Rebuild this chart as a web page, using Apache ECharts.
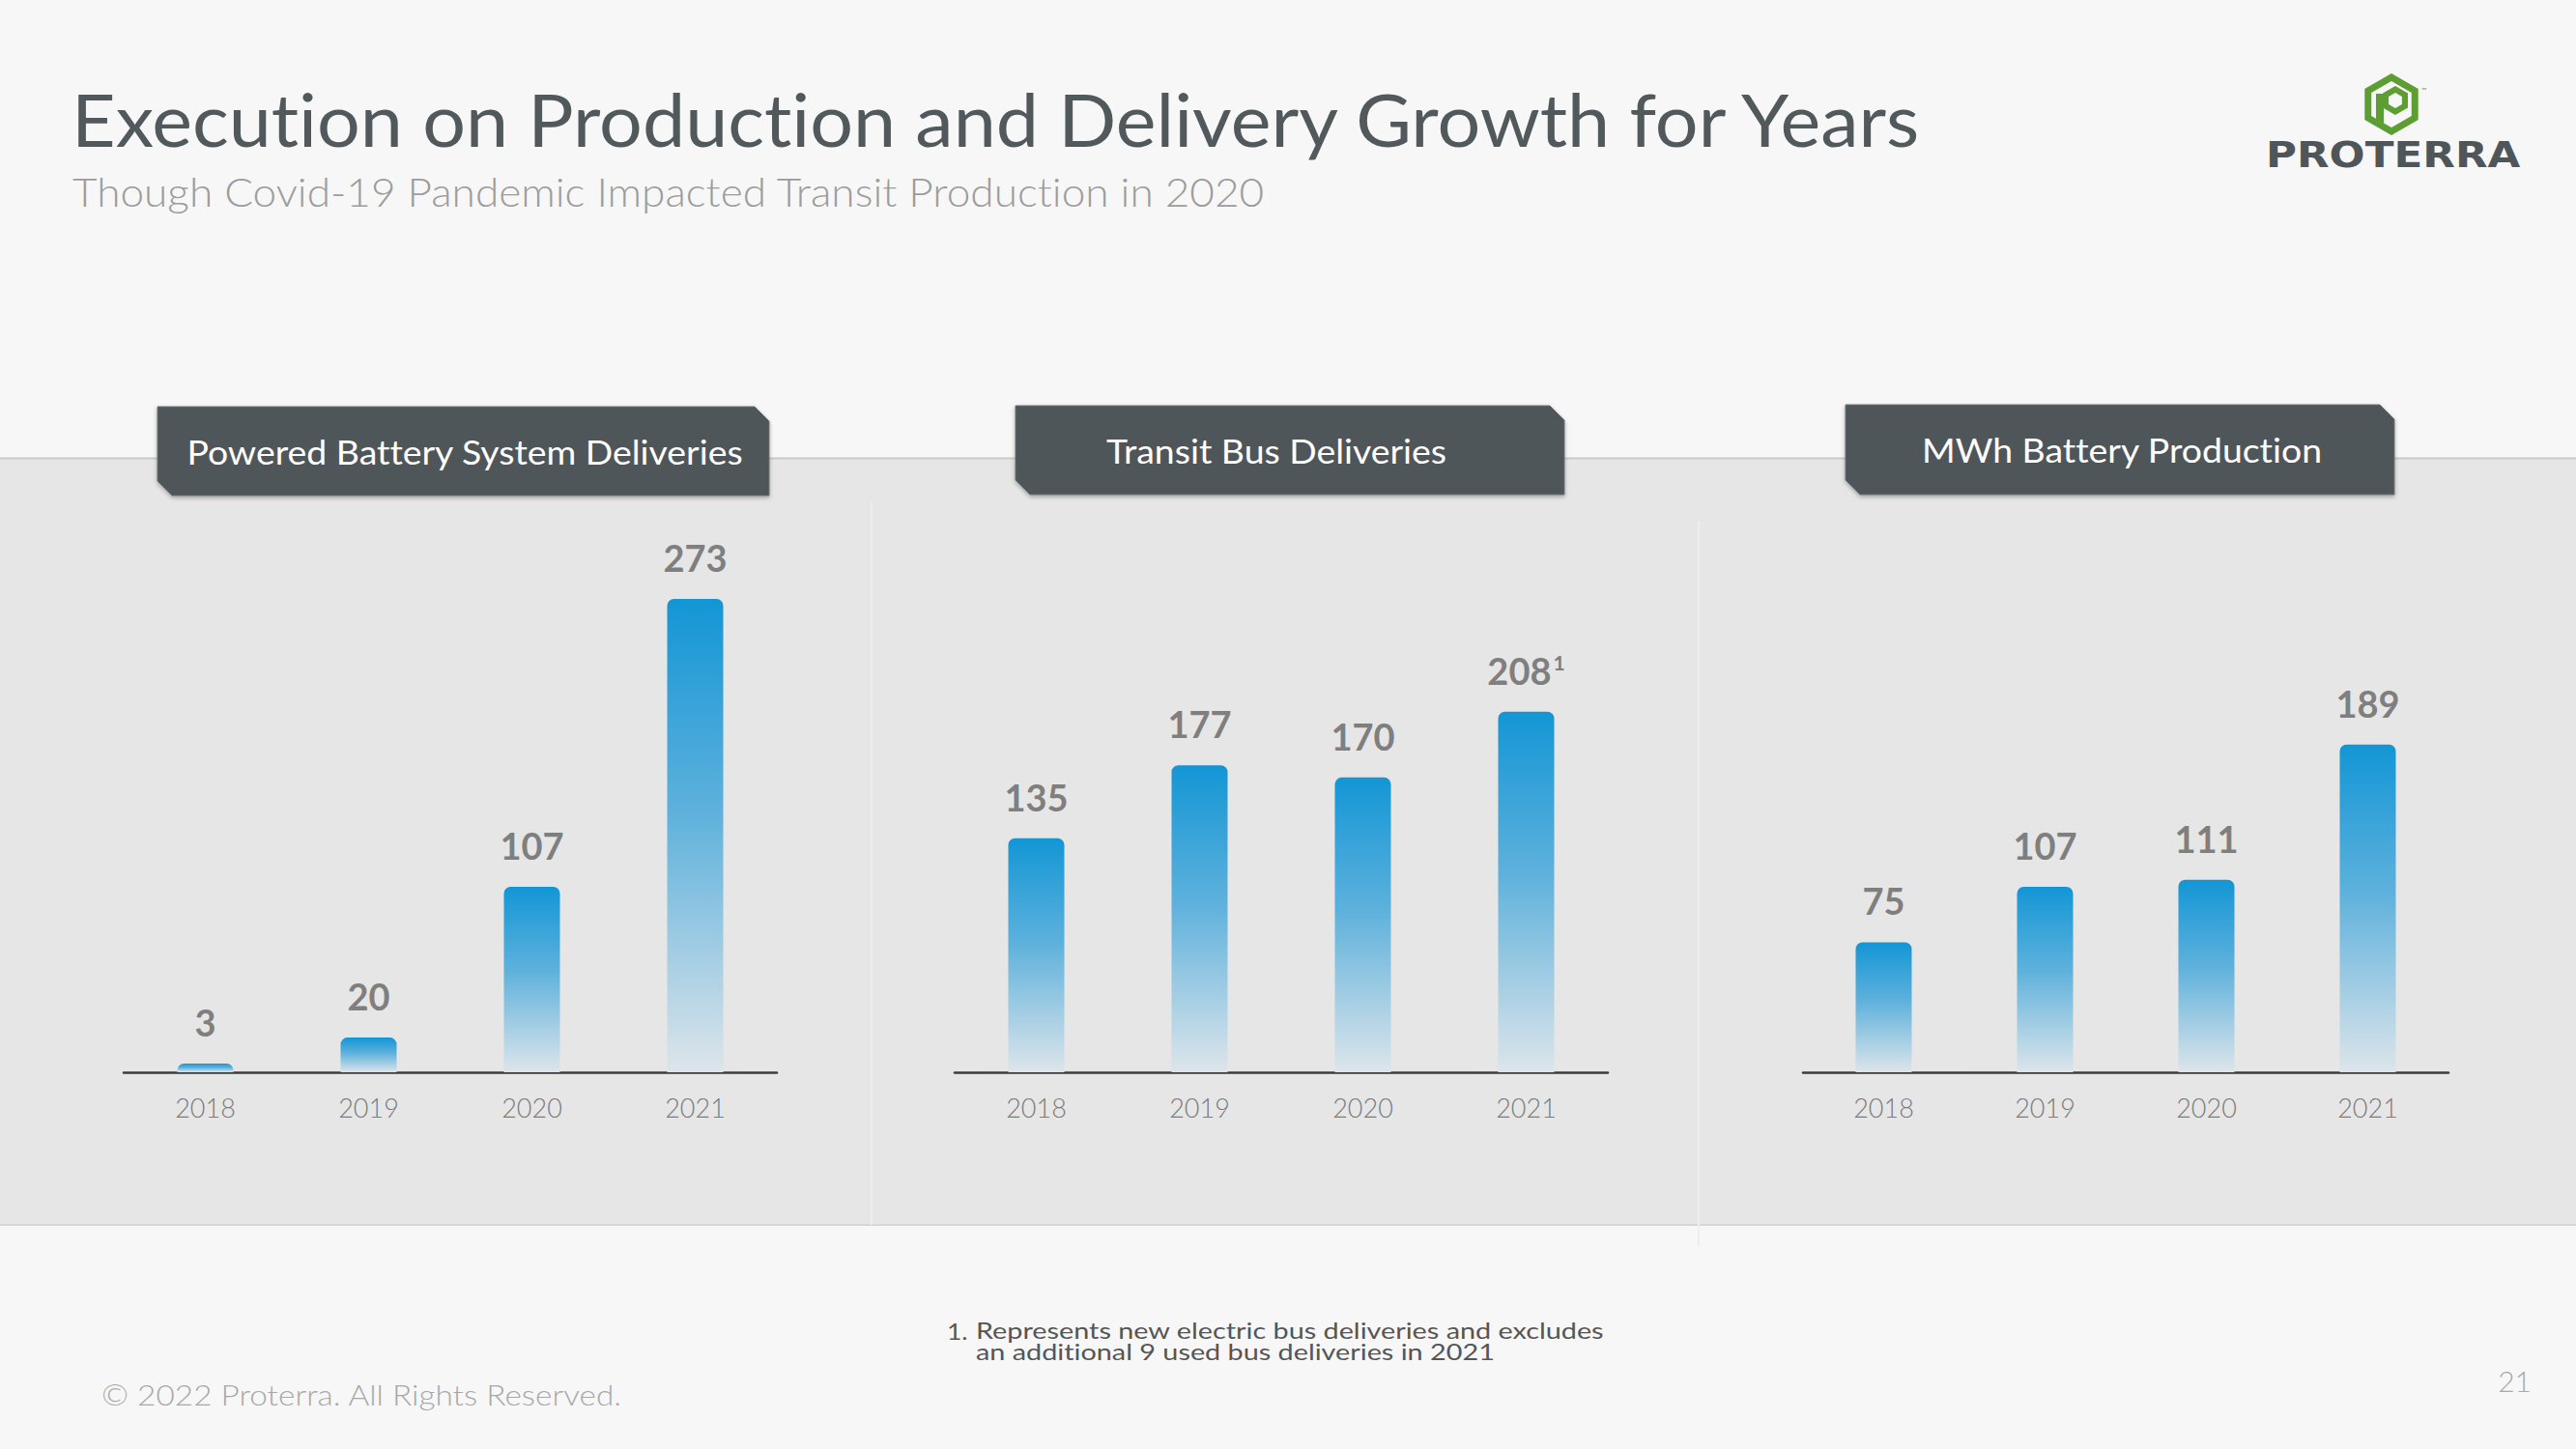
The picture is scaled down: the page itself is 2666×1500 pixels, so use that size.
<!DOCTYPE html>
<html>
<head>
<meta charset="utf-8">
<script src="https://cdn.jsdelivr.net/npm/echarts@6/dist/echarts.min.js"></script>
<style>
  html, body { margin: 0; padding: 0; background: #f7f7f7; }
  #chart { width: 2666px; height: 1500px; }
  #chart text, #chart tspan {
    font-variant-ligatures: none !important;
    font-feature-settings: "liga" 0, "clig" 0, "dlig" 0 !important;
  }
</style>
</head>
<body>
<div id="chart"></div>
<script>
// ---- data ----
const years = ['2018', '2019', '2020', '2021'];
const batterySystems = [3, 20, 107, 273];
const busDeliveries = [135, 177, 170, 208];
const busNotes = ['', '', '', '1'];
const mwhProduction = [75, 107, 111, 189];
const panelTitles = ['Powered Battery System Deliveries', 'Transit Bus Deliveries', 'MWh Battery Production'];
const mainTitle = 'Execution on Production and Delivery Growth for Years';
const subTitle = 'Though Covid-19 Pandemic Impacted Transit Production in 2020';
const footnoteLines = ['Represents new electric bus deliveries and excludes', 'an additional 9 used bus deliveries in 2021'];
const copyright = '\u00A9 2022 Proterra. All Rights Reserved.';
const pageNumber = '21';

// ---- style ----
const FONT = 'Lato, "Noto Sans", sans-serif';
const BG = '#f7f7f7';
const DARK = '#50575a';
const GREEN = '#5c9e31';

const chart = echarts.init(document.getElementById('chart'), null, { renderer: 'svg' });

function barGradient() {
  return new echarts.graphic.LinearGradient(0, 0, 0, 1, [
    { offset: 0, color: '#1396d5' },
    { offset: 0.45, color: '#5eb1dc' },
    { offset: 1, color: '#dde5ea' }
  ]);
}

const grids = [
  { left: 128, width: 676, top: 571.5, height: 538.5 },
  { left: 988, width: 676, top: 571.5, height: 538.5 },
  { left: 1866, width: 668, top: 571.5, height: 538.5 }
];
const seriesData = [batterySystems, busDeliveries, mwhProduction];

function chamferBox(x0, y0, x1, y1, c) {
  return [[x0, y0], [x1 - c, y0], [x1, y0 + c], [x1, y1], [x0 + c, y1], [x0, y1 - c]];
}
function hexPts(cx, cy, r) {
  const pts = [];
  for (let i = 0; i < 6; i++) {
    const a = (-90 + 60 * i) * Math.PI / 180;
    pts.push([cx + r * Math.cos(a), cy + r * Math.sin(a)]);
  }
  return pts;
}
// text element positioned at (x, y), optionally stretched horizontally around its anchor
function txt(x, y, text, font, fill, align, sx) {
  return {
    type: 'text', silent: true, x: x, y: y, scaleX: sx || 1, scaleY: 1,
    style: { x: 0, y: 0, text: text, font: font, fill: fill,
      align: align || 'left', verticalAlign: 'middle',
      textAlign: align || 'left', textVerticalAlign: 'middle' }
  };
}

// header boxes [x0, y0, x1, y1, textCenterX]
const boxes = [
  [163, 421, 796, 513, 481],
  [1051, 420, 1619, 512, 1321],
  [1910, 419, 2478, 512, 2196]
];

const graphics = [
  // gray band
  { type: 'rect', silent: true, z: -10, shape: { x: 0, y: 474, width: 2666, height: 794 }, style: { fill: '#e6e6e6' } },
  { type: 'line', silent: true, z: -9, shape: { x1: 0, y1: 474.5, x2: 2666, y2: 474.5 }, style: { stroke: '#c9c9c9', lineWidth: 2 } },
  { type: 'line', silent: true, z: -9, shape: { x1: 0, y1: 1268, x2: 2666, y2: 1268 }, style: { stroke: '#d6d6d6', lineWidth: 2 } },
  // faint panel dividers
  { type: 'line', silent: true, z: -9, shape: { x1: 902, y1: 520, x2: 902, y2: 1268 }, style: { stroke: '#eeeeee', lineWidth: 2 } },
  { type: 'line', silent: true, z: -9, shape: { x1: 1758, y1: 540, x2: 1758, y2: 1290 }, style: { stroke: '#eeeeee', lineWidth: 2 } },
  // title texts
  txt(74, 123, mainTitle, '400 76px ' + FONT, '#52595c', 'left', 1.04),
  txt(75, 198, subTitle, '300 41px ' + FONT, '#9c9c9c', 'left', 1.077),
  // footnote
  txt(980, 1377, '1.', '400 24px ' + FONT, '#555555', 'left', 1.1),
  txt(1010, 1377, footnoteLines[0], '400 24px ' + FONT, '#555555', 'left', 1.2),
  txt(1010, 1399, footnoteLines[1], '400 24px ' + FONT, '#555555', 'left', 1.2),
  txt(105, 1444, copyright, '300 29px ' + FONT, '#a8a8a8', 'left', 1.15),
  txt(2620, 1429, pageNumber, '300 30px ' + FONT, '#a8a8a8', 'right'),
  // logo
  { type: 'polygon', silent: true, shape: { points: hexPts(2475, 108, 32) }, style: { fill: GREEN } },
  { type: 'polygon', silent: true, shape: { points: hexPts(2475, 108, 24) }, style: { fill: BG } },
  { type: 'polygon', silent: true, shape: { points: hexPts(2479, 104, 15) }, style: { fill: GREEN } },
  { type: 'polygon', silent: true, shape: { points: hexPts(2479, 104, 8) }, style: { fill: BG } },
  { type: 'rect', silent: true, shape: { x: 2459, y: 97, width: 8, height: 33 }, style: { fill: GREEN } },
  txt(2506, 93, '\u2122', '400 7px ' + FONT, '#777777'),
  txt(2345, 160, 'PROTERRA', 'bold 37px "DejaVu Sans", sans-serif', '#4f5659', 'left', 1.18)
];

boxes.forEach(function (b, i) {
  graphics.push({
    type: 'polygon', silent: true, z: 5,
    shape: { points: chamferBox(b[0], b[1], b[2], b[3], 15) },
    style: { fill: DARK, stroke: '#6b7275', lineWidth: 1, shadowBlur: 4, shadowOffsetY: 2, shadowColor: 'rgba(0,0,0,0.3)' }
  });
  const t = txt(b[4], (b[1] + b[3]) / 2 + 1, panelTitles[i], '400 34px ' + FONT, '#ffffff', 'center', 1.1);
  t.z = 6;
  graphics.push(t);
});

const labelColor = '#7f7f7f';
const option = {
  backgroundColor: BG,
  animation: false,
  graphic: graphics,
  grid: grids,
  xAxis: grids.map(function (g, i) {
    return {
      type: 'category', gridIndex: i, data: years,
      axisLine: { lineStyle: { color: '#3c3c3c', width: 2.5 } },
      axisTick: { show: false },
      axisLabel: { color: '#7c7c7c', fontSize: 27, fontFamily: FONT, fontWeight: 300, margin: 23 },
      splitLine: { show: false }
    };
  }),
  yAxis: grids.map(function (g, i) {
    return { type: 'value', gridIndex: i, min: 0, max: 300, show: false, splitLine: { show: false } };
  }),
  series: seriesData.map(function (d, i) {
    return {
      type: 'bar', xAxisIndex: i, yAxisIndex: i, data: d, barWidth: 58, barMinHeight: 9,
      itemStyle: { color: barGradient(), borderRadius: [7, 7, 0, 0] },
      label: {
        show: true, position: 'top', distance: 24,
        formatter: function (p) {
          if (i === 1 && busNotes[p.dataIndex]) return '{v|' + p.value + '}{s|' + busNotes[p.dataIndex] + '}';
          return '{v|' + p.value + '}';
        },
        rich: {
          v: { fontSize: 38, fontWeight: 'bold', color: labelColor, fontFamily: FONT },
          s: { fontSize: 21, fontWeight: 'bold', color: labelColor, fontFamily: FONT, verticalAlign: 'top', padding: [0, 0, 0, 2] }
        }
      }
    };
  })
};
chart.setOption(option);
</script>
</body>
</html>
